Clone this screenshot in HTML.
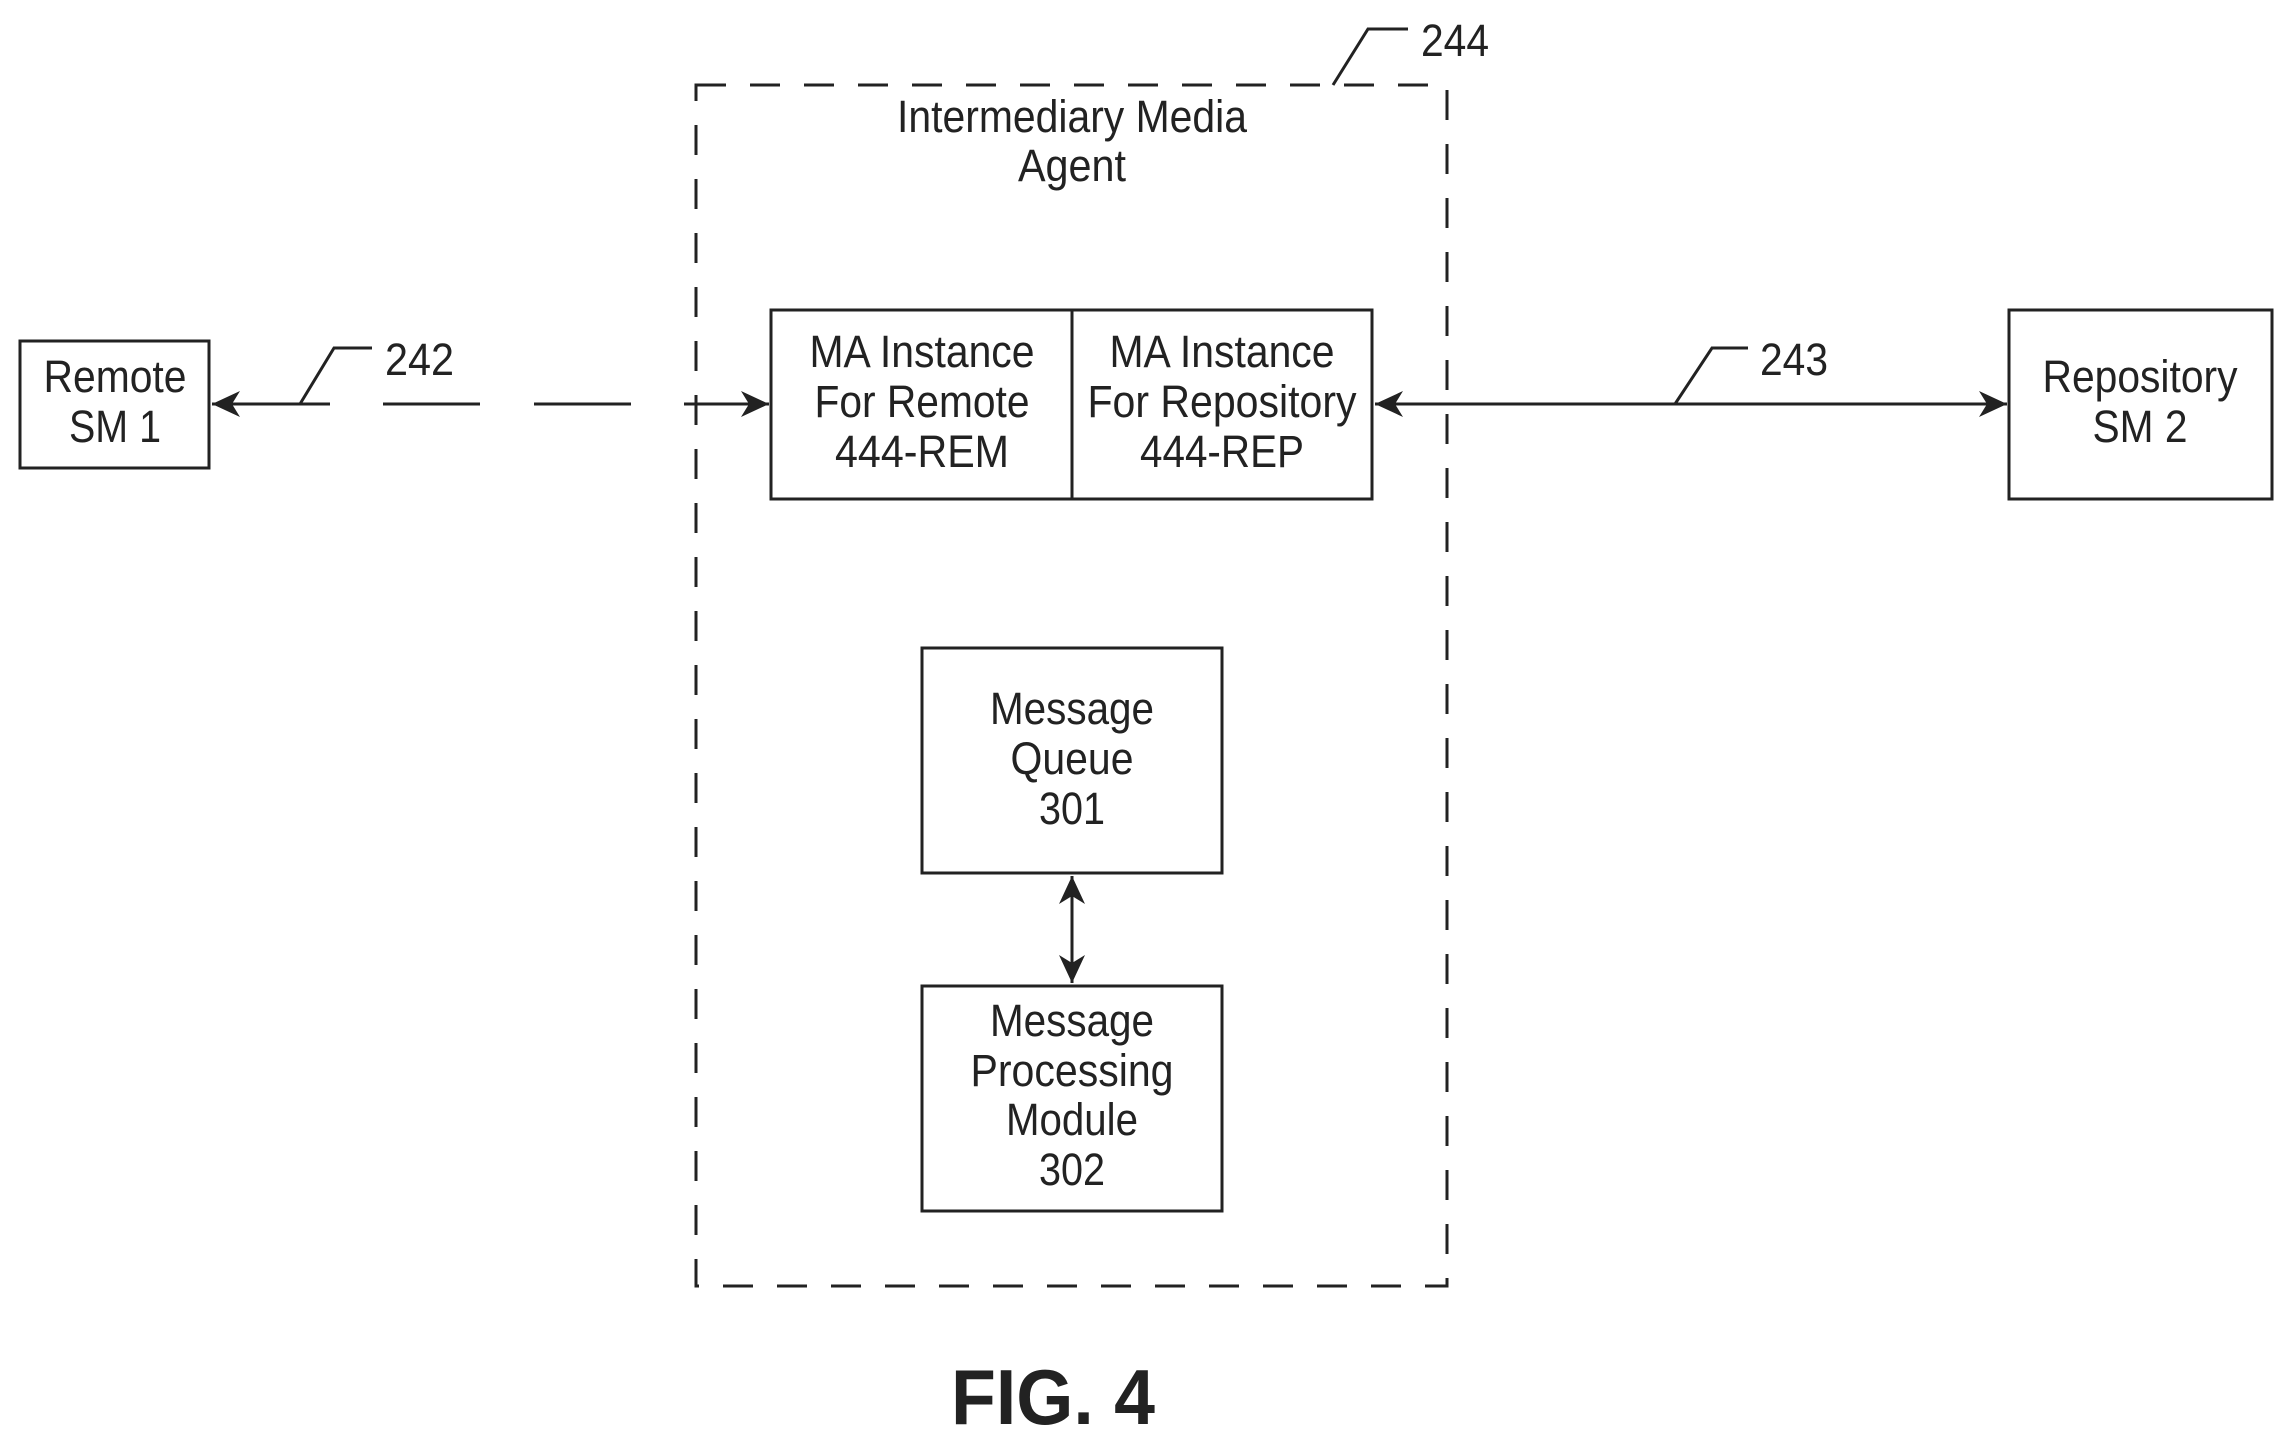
<!DOCTYPE html>
<html><head><meta charset="utf-8"><style>html,body{margin:0;padding:0;background:#fff}svg{display:block}</style></head>
<body>
<svg width="2294" height="1442" viewBox="0 0 2294 1442" xmlns="http://www.w3.org/2000/svg" font-family="Liberation Sans, sans-serif" font-size="45" fill="#222">
<defs>
<marker id="a" markerWidth="12" markerHeight="12" refX="11" refY="6" orient="auto-start-reverse" markerUnits="userSpaceOnUse"><path d="M0,0 L12,6 L0,12 L4,6 Z" fill="#222"/></marker>
<marker id="b" markerWidth="30" markerHeight="30" refX="28" refY="15" orient="auto-start-reverse" markerUnits="userSpaceOnUse"><path d="M0,2 L28,15 L0,28 L8,15 Z" fill="#222"/></marker>
</defs>
<g stroke="#222" stroke-width="3" fill="none">
<rect x="696" y="85" width="751" height="1201" stroke-dasharray="30,24"/>
<rect x="20" y="341" width="189" height="127"/>
<rect x="771" y="310" width="601" height="189"/>
<line x1="1072" y1="310" x2="1072" y2="499"/>
<rect x="2009" y="310" width="263" height="189"/>
<rect x="922" y="648" width="300" height="225"/>
<rect x="922" y="986" width="300" height="225"/>
<line x1="1072" y1="876" x2="1072" y2="983" marker-start="url(#b)" marker-end="url(#b)"/>
<line x1="1375" y1="404" x2="2007" y2="404" marker-start="url(#b)" marker-end="url(#b)"/>
<line x1="212" y1="404" x2="330" y2="404" marker-start="url(#b)"/>
<line x1="383" y1="404" x2="480" y2="404"/>
<line x1="534" y1="404" x2="631" y2="404"/>
<line x1="684" y1="404" x2="769" y2="404" marker-end="url(#b)"/>
<polyline points="300,404 334,348 372,348"/>
<polyline points="1675,404 1712,348 1748,348"/>
<polyline points="1333,85 1368,29 1408,29"/>
</g>
<g text-anchor="middle" stroke="none">
<text x="1072" y="132" textLength="350" lengthAdjust="spacingAndGlyphs">Intermediary Media</text>
<text x="1072" y="181" textLength="108" lengthAdjust="spacingAndGlyphs">Agent</text>
<text x="922" y="367" textLength="225" lengthAdjust="spacingAndGlyphs">MA Instance</text>
<text x="922" y="417" textLength="215" lengthAdjust="spacingAndGlyphs">For Remote</text>
<text x="922" y="467" textLength="174" lengthAdjust="spacingAndGlyphs">444-REM</text>
<text x="1222" y="367" textLength="225" lengthAdjust="spacingAndGlyphs">MA Instance</text>
<text x="1222" y="417" textLength="269" lengthAdjust="spacingAndGlyphs">For Repository</text>
<text x="1222" y="467" textLength="164" lengthAdjust="spacingAndGlyphs">444-REP</text>
<text x="115" y="392" textLength="143" lengthAdjust="spacingAndGlyphs">Remote</text>
<text x="115" y="442" textLength="92" lengthAdjust="spacingAndGlyphs">SM 1</text>
<text x="2140" y="392" textLength="195" lengthAdjust="spacingAndGlyphs">Repository</text>
<text x="2140" y="442" textLength="95" lengthAdjust="spacingAndGlyphs">SM 2</text>
<text x="1072" y="724" textLength="164" lengthAdjust="spacingAndGlyphs">Message</text>
<text x="1072" y="774" textLength="123" lengthAdjust="spacingAndGlyphs">Queue</text>
<text x="1072" y="824" textLength="66" lengthAdjust="spacingAndGlyphs">301</text>
<text x="1072" y="1036" textLength="164" lengthAdjust="spacingAndGlyphs">Message</text>
<text x="1072" y="1086" textLength="203" lengthAdjust="spacingAndGlyphs">Processing</text>
<text x="1072" y="1135" textLength="132" lengthAdjust="spacingAndGlyphs">Module</text>
<text x="1072" y="1185" textLength="66" lengthAdjust="spacingAndGlyphs">302</text>
</g>
<g stroke="none">
<text x="385" y="375" textLength="69" lengthAdjust="spacingAndGlyphs">242</text>
<text x="1760" y="375" textLength="68" lengthAdjust="spacingAndGlyphs">243</text>
<text x="1421" y="56" textLength="68" lengthAdjust="spacingAndGlyphs">244</text>
<text x="1053" y="1424" text-anchor="middle" font-size="78" font-weight="bold" textLength="204" lengthAdjust="spacingAndGlyphs">FIG. 4</text>
</g>
</svg>
</body></html>
